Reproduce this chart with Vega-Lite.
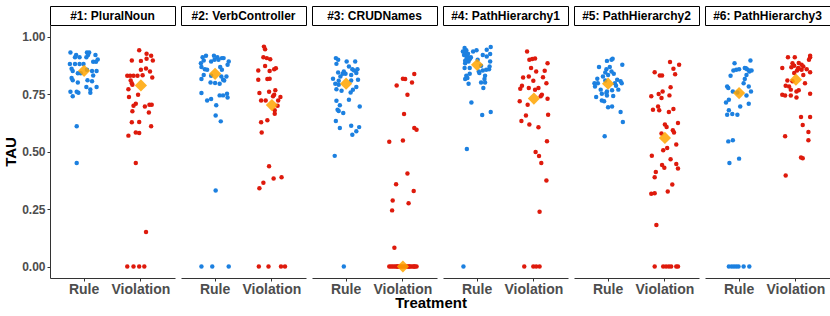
{
"$schema": "https://vega.github.io/schema/vega-lite/v6.json",
"padding": {"left": 3, "top": 5, "right": 3, "bottom": 3},
"config": {
  "font": "Liberation Sans",
  "view": {"stroke": null},
  "axis": {"grid": false, "domainColor": "#333333", "tickColor": "#333333", "domainWidth": 1, "tickWidth": 1, "tickSize": 3, "labelPadding": 2, "labelColor": "#4d4d4d", "labelFontWeight": "bold", "titleFontWeight": "bold", "titleColor": "black"},
  "axisY": {"labelFontSize": 12, "titleFontSize": 15, "titlePadding": 3},
  "axisX": {"labelFontSize": 14, "labelAngle": 0, "labelPadding": 1}
},
"title": {"text": "Treatment", "orient": "bottom", "anchor": "middle", "fontSize": 15, "fontWeight": "bold", "color": "black", "offset": 0, "dx": 14},
"datasets": {
"strips": [
{"panel":1,"label":"#1: PluralNoun"},{"panel":2,"label":"#2: VerbController"},{"panel":3,"label":"#3: CRUDNames"},{"panel":4,"label":"#4: PathHierarchy1"},{"panel":5,"label":"#5: PathHierarchy2"},{"panel":6,"label":"#6: PathHierarchy3"}
],
"med": [
{"panel":1,"treatment":"Rule","tau":0.851},{"panel":1,"treatment":"Violation","tau":0.787},
{"panel":2,"treatment":"Rule","tau":0.838},{"panel":2,"treatment":"Violation","tau":0.702},
{"panel":3,"treatment":"Rule","tau":0.795},{"panel":3,"treatment":"Violation","tau":0.0},
{"panel":4,"treatment":"Rule","tau":0.877},{"panel":4,"treatment":"Violation","tau":0.73},
{"panel":5,"treatment":"Rule","tau":0.795},{"panel":5,"treatment":"Violation","tau":0.559},
{"panel":6,"treatment":"Rule","tau":0.754},{"panel":6,"treatment":"Violation","tau":0.812}
],
"pts": [
{"panel":1,"treatment":"Rule","jitter":-0.24,"tau":0.93},{"panel":1,"treatment":"Rule","jitter":-0.14,"tau":0.92},{"panel":1,"treatment":"Rule","jitter":-0.08,"tau":0.91},{"panel":1,"treatment":"Rule","jitter":-0.16,"tau":0.91},{"panel":1,"treatment":"Rule","jitter":0.05,"tau":0.93},{"panel":1,"treatment":"Rule","jitter":0.09,"tau":0.93},{"panel":1,"treatment":"Rule","jitter":0.07,"tau":0.92},{"panel":1,"treatment":"Rule","jitter":0.04,"tau":0.91},{"panel":1,"treatment":"Rule","jitter":0.2,"tau":0.92},{"panel":1,"treatment":"Rule","jitter":0.24,"tau":0.9},{"panel":1,"treatment":"Rule","jitter":0.21,"tau":0.89},{"panel":1,"treatment":"Rule","jitter":0.16,"tau":0.89},{"panel":1,"treatment":"Rule","jitter":-0.25,"tau":0.88},{"panel":1,"treatment":"Rule","jitter":-0.16,"tau":0.88},{"panel":1,"treatment":"Rule","jitter":-0.08,"tau":0.88},{"panel":1,"treatment":"Rule","jitter":-0.01,"tau":0.88},{"panel":1,"treatment":"Rule","jitter":-0.22,"tau":0.86},{"panel":1,"treatment":"Rule","jitter":-0.2,"tau":0.85},{"panel":1,"treatment":"Rule","jitter":-0.11,"tau":0.84},{"panel":1,"treatment":"Rule","jitter":-0.06,"tau":0.84},{"panel":1,"treatment":"Rule","jitter":0.05,"tau":0.855},{"panel":1,"treatment":"Rule","jitter":0.14,"tau":0.85},{"panel":1,"treatment":"Rule","jitter":0.22,"tau":0.85},{"panel":1,"treatment":"Rule","jitter":0.16,"tau":0.83},{"panel":1,"treatment":"Rule","jitter":-0.22,"tau":0.82},{"panel":1,"treatment":"Rule","jitter":-0.2,"tau":0.81},{"panel":1,"treatment":"Rule","jitter":0.06,"tau":0.81},{"panel":1,"treatment":"Rule","jitter":0.14,"tau":0.805},{"panel":1,"treatment":"Rule","jitter":-0.11,"tau":0.8},{"panel":1,"treatment":"Rule","jitter":0.04,"tau":0.78},{"panel":1,"treatment":"Rule","jitter":0.11,"tau":0.77},{"panel":1,"treatment":"Rule","jitter":0.22,"tau":0.78},{"panel":1,"treatment":"Rule","jitter":-0.24,"tau":0.76},{"panel":1,"treatment":"Rule","jitter":-0.13,"tau":0.76},{"panel":1,"treatment":"Rule","jitter":-0.1,"tau":0.755},{"panel":1,"treatment":"Rule","jitter":0.11,"tau":0.755},{"panel":1,"treatment":"Rule","jitter":-0.2,"tau":0.74},{"panel":1,"treatment":"Rule","jitter":-0.13,"tau":0.61},{"panel":1,"treatment":"Rule","jitter":-0.13,"tau":0.45},
{"panel":1,"treatment":"Violation","jitter":-0.03,"tau":0.94},{"panel":1,"treatment":"Violation","jitter":0.1,"tau":0.925},{"panel":1,"treatment":"Violation","jitter":0.18,"tau":0.916},{"panel":1,"treatment":"Violation","jitter":0,"tau":0.894},{"panel":1,"treatment":"Violation","jitter":-0.16,"tau":0.896},{"panel":1,"treatment":"Violation","jitter":0.1,"tau":0.903},{"panel":1,"treatment":"Violation","jitter":0.21,"tau":0.896},{"panel":1,"treatment":"Violation","jitter":0,"tau":0.855},{"panel":1,"treatment":"Violation","jitter":0.09,"tau":0.861},{"panel":1,"treatment":"Violation","jitter":0.16,"tau":0.848},{"panel":1,"treatment":"Violation","jitter":0.2,"tau":0.822},{"panel":1,"treatment":"Violation","jitter":-0.24,"tau":0.829},{"panel":1,"treatment":"Violation","jitter":-0.19,"tau":0.829},{"panel":1,"treatment":"Violation","jitter":-0.13,"tau":0.829},{"panel":1,"treatment":"Violation","jitter":-0.06,"tau":0.829},{"panel":1,"treatment":"Violation","jitter":0.03,"tau":0.832},{"panel":1,"treatment":"Violation","jitter":-0.18,"tau":0.809},{"panel":1,"treatment":"Violation","jitter":-0.15,"tau":0.79},{"panel":1,"treatment":"Violation","jitter":-0.22,"tau":0.771},{"panel":1,"treatment":"Violation","jitter":-0.16,"tau":0.797},{"panel":1,"treatment":"Violation","jitter":-0.05,"tau":0.747},{"panel":1,"treatment":"Violation","jitter":-0.21,"tau":0.737},{"panel":1,"treatment":"Violation","jitter":-0.09,"tau":0.708},{"panel":1,"treatment":"Violation","jitter":-0.13,"tau":0.699},{"panel":1,"treatment":"Violation","jitter":0.07,"tau":0.696},{"panel":1,"treatment":"Violation","jitter":0.15,"tau":0.703},{"panel":1,"treatment":"Violation","jitter":0.19,"tau":0.703},{"panel":1,"treatment":"Violation","jitter":-0.15,"tau":0.675},{"panel":1,"treatment":"Violation","jitter":0.14,"tau":0.67},{"panel":1,"treatment":"Violation","jitter":-0.16,"tau":0.627},{"panel":1,"treatment":"Violation","jitter":-0.03,"tau":0.628},{"panel":1,"treatment":"Violation","jitter":0.18,"tau":0.61},{"panel":1,"treatment":"Violation","jitter":-0.09,"tau":0.583},{"panel":1,"treatment":"Violation","jitter":-0.03,"tau":0.58},{"panel":1,"treatment":"Violation","jitter":-0.22,"tau":0.569},{"panel":1,"treatment":"Violation","jitter":-0.09,"tau":0.45},{"panel":1,"treatment":"Violation","jitter":0.09,"tau":0.15},{"panel":1,"treatment":"Violation","jitter":-0.24,"tau":0},{"panel":1,"treatment":"Violation","jitter":-0.13,"tau":0},{"panel":1,"treatment":"Violation","jitter":-0.03,"tau":0},{"panel":1,"treatment":"Violation","jitter":0.06,"tau":0},
{"panel":2,"treatment":"Rule","jitter":-0.22,"tau":0.91},{"panel":2,"treatment":"Rule","jitter":-0.16,"tau":0.916},{"panel":2,"treatment":"Rule","jitter":-0.02,"tau":0.916},{"panel":2,"treatment":"Rule","jitter":0.04,"tau":0.91},{"panel":2,"treatment":"Rule","jitter":0.12,"tau":0.906},{"panel":2,"treatment":"Rule","jitter":0.15,"tau":0.906},{"panel":2,"treatment":"Rule","jitter":-0.25,"tau":0.884},{"panel":2,"treatment":"Rule","jitter":-0.2,"tau":0.896},{"panel":2,"treatment":"Rule","jitter":-0.07,"tau":0.891},{"panel":2,"treatment":"Rule","jitter":-0.01,"tau":0.899},{"panel":2,"treatment":"Rule","jitter":0.06,"tau":0.899},{"panel":2,"treatment":"Rule","jitter":0.24,"tau":0.891},{"panel":2,"treatment":"Rule","jitter":0.22,"tau":0.877},{"panel":2,"treatment":"Rule","jitter":-0.24,"tau":0.867},{"panel":2,"treatment":"Rule","jitter":-0.18,"tau":0.858},{"panel":2,"treatment":"Rule","jitter":-0.14,"tau":0.855},{"panel":2,"treatment":"Rule","jitter":0.09,"tau":0.867},{"panel":2,"treatment":"Rule","jitter":0.12,"tau":0.855},{"panel":2,"treatment":"Rule","jitter":-0.2,"tau":0.833},{"panel":2,"treatment":"Rule","jitter":-0.07,"tau":0.829},{"panel":2,"treatment":"Rule","jitter":0.11,"tau":0.826},{"panel":2,"treatment":"Rule","jitter":0.2,"tau":0.826},{"panel":2,"treatment":"Rule","jitter":-0.24,"tau":0.815},{"panel":2,"treatment":"Rule","jitter":0.14,"tau":0.812},{"panel":2,"treatment":"Rule","jitter":0.16,"tau":0.809},{"panel":2,"treatment":"Rule","jitter":-0.08,"tau":0.8},{"panel":2,"treatment":"Rule","jitter":0,"tau":0.798},{"panel":2,"treatment":"Rule","jitter":0.08,"tau":0.795},{"panel":2,"treatment":"Rule","jitter":-0.24,"tau":0.754},{"panel":2,"treatment":"Rule","jitter":-0.14,"tau":0.722},{"panel":2,"treatment":"Rule","jitter":-0.07,"tau":0.728},{"panel":2,"treatment":"Rule","jitter":0.08,"tau":0.744},{"panel":2,"treatment":"Rule","jitter":0.14,"tau":0.744},{"panel":2,"treatment":"Rule","jitter":0.21,"tau":0.751},{"panel":2,"treatment":"Rule","jitter":0.22,"tau":0.735},{"panel":2,"treatment":"Rule","jitter":0.02,"tau":0.701},{"panel":2,"treatment":"Rule","jitter":0.01,"tau":0.657},{"panel":2,"treatment":"Rule","jitter":0.1,"tau":0.631},{"panel":2,"treatment":"Rule","jitter":0.01,"tau":0.33},{"panel":2,"treatment":"Rule","jitter":-0.24,"tau":0},{"panel":2,"treatment":"Rule","jitter":-0.05,"tau":0},{"panel":2,"treatment":"Rule","jitter":0.24,"tau":0},
{"panel":2,"treatment":"Violation","jitter":-0.14,"tau":0.956},{"panel":2,"treatment":"Violation","jitter":-0.12,"tau":0.945},{"panel":2,"treatment":"Violation","jitter":-0.15,"tau":0.91},{"panel":2,"treatment":"Violation","jitter":-0.09,"tau":0.906},{"panel":2,"treatment":"Violation","jitter":-0.03,"tau":0.901},{"panel":2,"treatment":"Violation","jitter":-0.12,"tau":0.872},{"panel":2,"treatment":"Violation","jitter":-0.04,"tau":0.85},{"panel":2,"treatment":"Violation","jitter":0.04,"tau":0.858},{"panel":2,"treatment":"Violation","jitter":0.07,"tau":0.862},{"panel":2,"treatment":"Violation","jitter":-0.24,"tau":0.852},{"panel":2,"treatment":"Violation","jitter":-0.08,"tau":0.815},{"panel":2,"treatment":"Violation","jitter":-0.04,"tau":0.816},{"panel":2,"treatment":"Violation","jitter":-0.24,"tau":0.812},{"panel":2,"treatment":"Violation","jitter":-0.22,"tau":0.754},{"panel":2,"treatment":"Violation","jitter":-0.05,"tau":0.76},{"panel":2,"treatment":"Violation","jitter":0.06,"tau":0.766},{"panel":2,"treatment":"Violation","jitter":0.04,"tau":0.747},{"panel":2,"treatment":"Violation","jitter":0.02,"tau":0.74},{"panel":2,"treatment":"Violation","jitter":0.15,"tau":0.737},{"panel":2,"treatment":"Violation","jitter":-0.19,"tau":0.722},{"panel":2,"treatment":"Violation","jitter":-0.11,"tau":0.722},{"panel":2,"treatment":"Violation","jitter":0.11,"tau":0.722},{"panel":2,"treatment":"Violation","jitter":0.1,"tau":0.699},{"panel":2,"treatment":"Violation","jitter":0.05,"tau":0.679},{"panel":2,"treatment":"Violation","jitter":0.05,"tau":0.664},{"panel":2,"treatment":"Violation","jitter":-0.19,"tau":0.627},{"panel":2,"treatment":"Violation","jitter":-0.08,"tau":0.636},{"panel":2,"treatment":"Violation","jitter":-0.18,"tau":0.583},{"panel":2,"treatment":"Violation","jitter":-0.05,"tau":0.436},{"panel":2,"treatment":"Violation","jitter":0.03,"tau":0.383},{"panel":2,"treatment":"Violation","jitter":0.17,"tau":0.388},{"panel":2,"treatment":"Violation","jitter":-0.15,"tau":0.364},{"panel":2,"treatment":"Violation","jitter":-0.22,"tau":0.34},{"panel":2,"treatment":"Violation","jitter":-0.23,"tau":0},{"panel":2,"treatment":"Violation","jitter":-0.06,"tau":0},{"panel":2,"treatment":"Violation","jitter":0.16,"tau":0},{"panel":2,"treatment":"Violation","jitter":0.23,"tau":0},
{"panel":3,"treatment":"Rule","jitter":-0.18,"tau":0.906},{"panel":3,"treatment":"Rule","jitter":-0.14,"tau":0.899},{"panel":3,"treatment":"Rule","jitter":-0.17,"tau":0.881},{"panel":3,"treatment":"Rule","jitter":0.01,"tau":0.891},{"panel":3,"treatment":"Rule","jitter":0.16,"tau":0.891},{"panel":3,"treatment":"Rule","jitter":0.05,"tau":0.87},{"panel":3,"treatment":"Rule","jitter":0.11,"tau":0.858},{"panel":3,"treatment":"Rule","jitter":0.14,"tau":0.852},{"panel":3,"treatment":"Rule","jitter":0.2,"tau":0.858},{"panel":3,"treatment":"Rule","jitter":-0.14,"tau":0.843},{"panel":3,"treatment":"Rule","jitter":-0.04,"tau":0.848},{"panel":3,"treatment":"Rule","jitter":-0.06,"tau":0.838},{"panel":3,"treatment":"Rule","jitter":-0.01,"tau":0.838},{"panel":3,"treatment":"Rule","jitter":0.09,"tau":0.833},{"panel":3,"treatment":"Rule","jitter":0.18,"tau":0.841},{"panel":3,"treatment":"Rule","jitter":-0.1,"tau":0.826},{"panel":3,"treatment":"Rule","jitter":-0.23,"tau":0.816},{"panel":3,"treatment":"Rule","jitter":-0.13,"tau":0.808},{"panel":3,"treatment":"Rule","jitter":0.09,"tau":0.809},{"panel":3,"treatment":"Rule","jitter":0.21,"tau":0.812},{"panel":3,"treatment":"Rule","jitter":-0.19,"tau":0.795},{"panel":3,"treatment":"Rule","jitter":-0.13,"tau":0.79},{"panel":3,"treatment":"Rule","jitter":0.12,"tau":0.768},{"panel":3,"treatment":"Rule","jitter":-0.17,"tau":0.771},{"panel":3,"treatment":"Rule","jitter":-0.08,"tau":0.764},{"panel":3,"treatment":"Rule","jitter":0.18,"tau":0.78},{"panel":3,"treatment":"Rule","jitter":0.08,"tau":0.757},{"panel":3,"treatment":"Rule","jitter":-0.17,"tau":0.721},{"panel":3,"treatment":"Rule","jitter":0.05,"tau":0.725},{"panel":3,"treatment":"Rule","jitter":-0.11,"tau":0.701},{"panel":3,"treatment":"Rule","jitter":0.24,"tau":0.696},{"panel":3,"treatment":"Rule","jitter":-0.15,"tau":0.682},{"panel":3,"treatment":"Rule","jitter":-0.13,"tau":0.676},{"panel":3,"treatment":"Rule","jitter":-0.05,"tau":0.667},{"panel":3,"treatment":"Rule","jitter":-0.18,"tau":0.633},{"panel":3,"treatment":"Rule","jitter":-0.11,"tau":0.602},{"panel":3,"treatment":"Rule","jitter":0.09,"tau":0.612},{"panel":3,"treatment":"Rule","jitter":0.23,"tau":0.606},{"panel":3,"treatment":"Rule","jitter":0.18,"tau":0.588},{"panel":3,"treatment":"Rule","jitter":0.11,"tau":0.573},{"panel":3,"treatment":"Rule","jitter":-0.2,"tau":0.481},{"panel":3,"treatment":"Rule","jitter":-0.04,"tau":0},
{"panel":3,"treatment":"Violation","jitter":0.2,"tau":0.837},{"panel":3,"treatment":"Violation","jitter":0,"tau":0.816},{"panel":3,"treatment":"Violation","jitter":0.04,"tau":0.815},{"panel":3,"treatment":"Violation","jitter":0.16,"tau":0.8},{"panel":3,"treatment":"Violation","jitter":-0.11,"tau":0.787},{"panel":3,"treatment":"Violation","jitter":0.08,"tau":0.747},{"panel":3,"treatment":"Violation","jitter":0.02,"tau":0.663},{"panel":3,"treatment":"Violation","jitter":0.2,"tau":0.602},{"panel":3,"treatment":"Violation","jitter":0.24,"tau":0.595},{"panel":3,"treatment":"Violation","jitter":-0.24,"tau":0.542},{"panel":3,"treatment":"Violation","jitter":0,"tau":0.548},{"panel":3,"treatment":"Violation","jitter":0.08,"tau":0.404},{"panel":3,"treatment":"Violation","jitter":-0.12,"tau":0.358},{"panel":3,"treatment":"Violation","jitter":0.19,"tau":0.328},{"panel":3,"treatment":"Violation","jitter":-0.18,"tau":0.287},{"panel":3,"treatment":"Violation","jitter":0.1,"tau":0.275},{"panel":3,"treatment":"Violation","jitter":-0.19,"tau":0.244},{"panel":3,"treatment":"Violation","jitter":-0.15,"tau":0.082},{"panel":3,"treatment":"Violation","jitter":-0.24,"tau":0},{"panel":3,"treatment":"Violation","jitter":-0.21,"tau":0},{"panel":3,"treatment":"Violation","jitter":-0.18,"tau":0},{"panel":3,"treatment":"Violation","jitter":-0.15,"tau":0},{"panel":3,"treatment":"Violation","jitter":-0.12,"tau":0},{"panel":3,"treatment":"Violation","jitter":-0.09,"tau":0},{"panel":3,"treatment":"Violation","jitter":-0.06,"tau":0},{"panel":3,"treatment":"Violation","jitter":-0.03,"tau":0},{"panel":3,"treatment":"Violation","jitter":0,"tau":0},{"panel":3,"treatment":"Violation","jitter":0.03,"tau":0},{"panel":3,"treatment":"Violation","jitter":0.06,"tau":0},{"panel":3,"treatment":"Violation","jitter":0.09,"tau":0},{"panel":3,"treatment":"Violation","jitter":0.12,"tau":0},{"panel":3,"treatment":"Violation","jitter":0.15,"tau":0},{"panel":3,"treatment":"Violation","jitter":0.18,"tau":0},{"panel":3,"treatment":"Violation","jitter":0.21,"tau":0},{"panel":3,"treatment":"Violation","jitter":0.24,"tau":0},{"panel":3,"treatment":"Violation","jitter":-0.1,"tau":0},{"panel":3,"treatment":"Violation","jitter":0.11,"tau":0},{"panel":3,"treatment":"Violation","jitter":0.2,"tau":0},
{"panel":4,"treatment":"Rule","jitter":-0.22,"tau":0.95},{"panel":4,"treatment":"Rule","jitter":0.24,"tau":0.954},{"panel":4,"treatment":"Rule","jitter":-0.25,"tau":0.935},{"panel":4,"treatment":"Rule","jitter":-0.19,"tau":0.94},{"panel":4,"treatment":"Rule","jitter":-0.07,"tau":0.935},{"panel":4,"treatment":"Rule","jitter":-0.01,"tau":0.94},{"panel":4,"treatment":"Rule","jitter":0.17,"tau":0.942},{"panel":4,"treatment":"Rule","jitter":0.23,"tau":0.924},{"panel":4,"treatment":"Rule","jitter":-0.23,"tau":0.92},{"panel":4,"treatment":"Rule","jitter":-0.17,"tau":0.916},{"panel":4,"treatment":"Rule","jitter":-0.11,"tau":0.91},{"panel":4,"treatment":"Rule","jitter":0.17,"tau":0.913},{"panel":4,"treatment":"Rule","jitter":-0.19,"tau":0.899},{"panel":4,"treatment":"Rule","jitter":-0.13,"tau":0.902},{"panel":4,"treatment":"Rule","jitter":-0.21,"tau":0.884},{"panel":4,"treatment":"Rule","jitter":-0.15,"tau":0.891},{"panel":4,"treatment":"Rule","jitter":0.23,"tau":0.891},{"panel":4,"treatment":"Rule","jitter":0.01,"tau":0.899},{"panel":4,"treatment":"Rule","jitter":-0.22,"tau":0.863},{"panel":4,"treatment":"Rule","jitter":-0.13,"tau":0.863},{"panel":4,"treatment":"Rule","jitter":0.07,"tau":0.873},{"panel":4,"treatment":"Rule","jitter":0.22,"tau":0.87},{"panel":4,"treatment":"Rule","jitter":0.03,"tau":0.848},{"panel":4,"treatment":"Rule","jitter":0.1,"tau":0.852},{"panel":4,"treatment":"Rule","jitter":0.16,"tau":0.855},{"panel":4,"treatment":"Rule","jitter":0.21,"tau":0.858},{"panel":4,"treatment":"Rule","jitter":-0.19,"tau":0.829},{"panel":4,"treatment":"Rule","jitter":-0.13,"tau":0.838},{"panel":4,"treatment":"Rule","jitter":0.04,"tau":0.841},{"panel":4,"treatment":"Rule","jitter":0.14,"tau":0.829},{"panel":4,"treatment":"Rule","jitter":-0.21,"tau":0.815},{"panel":4,"treatment":"Rule","jitter":-0.17,"tau":0.82},{"panel":4,"treatment":"Rule","jitter":0.13,"tau":0.815},{"panel":4,"treatment":"Rule","jitter":0.07,"tau":0.8},{"panel":4,"treatment":"Rule","jitter":-0.15,"tau":0.795},{"panel":4,"treatment":"Rule","jitter":0.14,"tau":0.8},{"panel":4,"treatment":"Rule","jitter":0.11,"tau":0.776},{"panel":4,"treatment":"Rule","jitter":-0.1,"tau":0.713},{"panel":4,"treatment":"Rule","jitter":0.09,"tau":0.659},{"panel":4,"treatment":"Rule","jitter":0.24,"tau":0.672},{"panel":4,"treatment":"Rule","jitter":-0.18,"tau":0.511},{"panel":4,"treatment":"Rule","jitter":-0.24,"tau":0},{"panel":4,"treatment":"Rule","jitter":-0.2,"tau":0.93},{"panel":4,"treatment":"Rule","jitter":-0.16,"tau":0.925},{"panel":4,"treatment":"Rule","jitter":-0.12,"tau":0.905},{"panel":4,"treatment":"Rule","jitter":-0.18,"tau":0.91},{"panel":4,"treatment":"Rule","jitter":-0.21,"tau":0.895},{"panel":4,"treatment":"Rule","jitter":0.1,"tau":0.92},
{"panel":4,"treatment":"Violation","jitter":-0.12,"tau":0.935},{"panel":4,"treatment":"Violation","jitter":-0.08,"tau":0.899},{"panel":4,"treatment":"Violation","jitter":-0.03,"tau":0.902},{"panel":4,"treatment":"Violation","jitter":0.02,"tau":0.904},{"panel":4,"treatment":"Violation","jitter":0.24,"tau":0.884},{"panel":4,"treatment":"Violation","jitter":-0.05,"tau":0.863},{"panel":4,"treatment":"Violation","jitter":0.04,"tau":0.848},{"panel":4,"treatment":"Violation","jitter":0.19,"tau":0.851},{"panel":4,"treatment":"Violation","jitter":-0.19,"tau":0.822},{"panel":4,"treatment":"Violation","jitter":-0.09,"tau":0.826},{"panel":4,"treatment":"Violation","jitter":0.16,"tau":0.823},{"panel":4,"treatment":"Violation","jitter":-0.01,"tau":0.808},{"panel":4,"treatment":"Violation","jitter":0.22,"tau":0.797},{"panel":4,"treatment":"Violation","jitter":-0.21,"tau":0.786},{"panel":4,"treatment":"Violation","jitter":-0.24,"tau":0.773},{"panel":4,"treatment":"Violation","jitter":-0.09,"tau":0.776},{"panel":4,"treatment":"Violation","jitter":0.02,"tau":0.768},{"panel":4,"treatment":"Violation","jitter":0.08,"tau":0.776},{"panel":4,"treatment":"Violation","jitter":0.14,"tau":0.747},{"panel":4,"treatment":"Violation","jitter":-0.25,"tau":0.718},{"panel":4,"treatment":"Violation","jitter":-0.11,"tau":0.703},{"panel":4,"treatment":"Violation","jitter":0.12,"tau":0.74},{"panel":4,"treatment":"Violation","jitter":0.24,"tau":0.729},{"panel":4,"treatment":"Violation","jitter":-0.14,"tau":0.657},{"panel":4,"treatment":"Violation","jitter":0.25,"tau":0.66},{"panel":4,"treatment":"Violation","jitter":-0.22,"tau":0.633},{"panel":4,"treatment":"Violation","jitter":-0.08,"tau":0.617},{"panel":4,"treatment":"Violation","jitter":0.08,"tau":0.605},{"panel":4,"treatment":"Violation","jitter":0.23,"tau":0.545},{"panel":4,"treatment":"Violation","jitter":0.03,"tau":0.498},{"panel":4,"treatment":"Violation","jitter":0.09,"tau":0.48},{"panel":4,"treatment":"Violation","jitter":0.13,"tau":0.45},{"panel":4,"treatment":"Violation","jitter":0.22,"tau":0.374},{"panel":4,"treatment":"Violation","jitter":0.1,"tau":0.238},{"panel":4,"treatment":"Violation","jitter":-0.17,"tau":0},{"panel":4,"treatment":"Violation","jitter":-0.01,"tau":0},{"panel":4,"treatment":"Violation","jitter":0.04,"tau":0},{"panel":4,"treatment":"Violation","jitter":0.1,"tau":0},
{"panel":5,"treatment":"Rule","jitter":-0.02,"tau":0.894},{"panel":5,"treatment":"Rule","jitter":0.06,"tau":0.899},{"panel":5,"treatment":"Rule","jitter":0.08,"tau":0.903},{"panel":5,"treatment":"Rule","jitter":0.25,"tau":0.877},{"panel":5,"treatment":"Rule","jitter":-0.16,"tau":0.867},{"panel":5,"treatment":"Rule","jitter":-0.03,"tau":0.858},{"panel":5,"treatment":"Rule","jitter":0.03,"tau":0.867},{"panel":5,"treatment":"Rule","jitter":-0.05,"tau":0.843},{"panel":5,"treatment":"Rule","jitter":0.06,"tau":0.848},{"panel":5,"treatment":"Rule","jitter":0.1,"tau":0.838},{"panel":5,"treatment":"Rule","jitter":0,"tau":0.833},{"panel":5,"treatment":"Rule","jitter":-0.19,"tau":0.816},{"panel":5,"treatment":"Rule","jitter":-0.09,"tau":0.826},{"panel":5,"treatment":"Rule","jitter":-0.05,"tau":0.809},{"panel":5,"treatment":"Rule","jitter":-0.24,"tau":0.797},{"panel":5,"treatment":"Rule","jitter":-0.18,"tau":0.797},{"panel":5,"treatment":"Rule","jitter":-0.23,"tau":0.783},{"panel":5,"treatment":"Rule","jitter":0.16,"tau":0.812},{"panel":5,"treatment":"Rule","jitter":0.22,"tau":0.805},{"panel":5,"treatment":"Rule","jitter":0.24,"tau":0.797},{"panel":5,"treatment":"Rule","jitter":0.12,"tau":0.797},{"panel":5,"treatment":"Rule","jitter":0.14,"tau":0.786},{"panel":5,"treatment":"Rule","jitter":-0.13,"tau":0.769},{"panel":5,"treatment":"Rule","jitter":-0.02,"tau":0.761},{"panel":5,"treatment":"Rule","jitter":0.07,"tau":0.766},{"panel":5,"treatment":"Rule","jitter":0.18,"tau":0.769},{"panel":5,"treatment":"Rule","jitter":-0.11,"tau":0.751},{"panel":5,"treatment":"Rule","jitter":-0.03,"tau":0.754},{"panel":5,"treatment":"Rule","jitter":-0.02,"tau":0.743},{"panel":5,"treatment":"Rule","jitter":-0.21,"tau":0.737},{"panel":5,"treatment":"Rule","jitter":0.09,"tau":0.741},{"panel":5,"treatment":"Rule","jitter":-0.11,"tau":0.722},{"panel":5,"treatment":"Rule","jitter":-0.07,"tau":0.718},{"panel":5,"treatment":"Rule","jitter":0,"tau":0.692},{"panel":5,"treatment":"Rule","jitter":0.07,"tau":0.696},{"panel":5,"treatment":"Rule","jitter":0.22,"tau":0.672},{"panel":5,"treatment":"Rule","jitter":0.26,"tau":0.628},{"panel":5,"treatment":"Rule","jitter":-0.06,"tau":0.566},
{"panel":5,"treatment":"Violation","jitter":0.09,"tau":0.889},{"panel":5,"treatment":"Violation","jitter":0.25,"tau":0.877},{"panel":5,"treatment":"Violation","jitter":0.15,"tau":0.86},{"panel":5,"treatment":"Violation","jitter":-0.18,"tau":0.845},{"panel":5,"treatment":"Violation","jitter":-0.09,"tau":0.83},{"panel":5,"treatment":"Violation","jitter":-0.05,"tau":0.83},{"panel":5,"treatment":"Violation","jitter":0.18,"tau":0.836},{"panel":5,"treatment":"Violation","jitter":0.1,"tau":0.779},{"panel":5,"treatment":"Violation","jitter":-0.04,"tau":0.761},{"panel":5,"treatment":"Violation","jitter":-0.11,"tau":0.75},{"panel":5,"treatment":"Violation","jitter":0.08,"tau":0.744},{"panel":5,"treatment":"Violation","jitter":-0.24,"tau":0.74},{"panel":5,"treatment":"Violation","jitter":-0.06,"tau":0.733},{"panel":5,"treatment":"Violation","jitter":-0.21,"tau":0.682},{"panel":5,"treatment":"Violation","jitter":-0.12,"tau":0.696},{"panel":5,"treatment":"Violation","jitter":-0.1,"tau":0.679},{"panel":5,"treatment":"Violation","jitter":0.15,"tau":0.685},{"panel":5,"treatment":"Violation","jitter":0.07,"tau":0.672},{"panel":5,"treatment":"Violation","jitter":0,"tau":0.617},{"panel":5,"treatment":"Violation","jitter":0.03,"tau":0.607},{"panel":5,"treatment":"Violation","jitter":0.23,"tau":0.624},{"panel":5,"treatment":"Violation","jitter":0.14,"tau":0.592},{"panel":5,"treatment":"Violation","jitter":0.16,"tau":0.583},{"panel":5,"treatment":"Violation","jitter":-0.06,"tau":0.578},{"panel":5,"treatment":"Violation","jitter":0.2,"tau":0.53},{"panel":5,"treatment":"Violation","jitter":0.04,"tau":0.515},{"panel":5,"treatment":"Violation","jitter":-0.03,"tau":0.505},{"panel":5,"treatment":"Violation","jitter":-0.23,"tau":0.482},{"panel":5,"treatment":"Violation","jitter":-0.16,"tau":0.411},{"panel":5,"treatment":"Violation","jitter":-0.18,"tau":0.388},{"panel":5,"treatment":"Violation","jitter":-0.05,"tau":0.441},{"panel":5,"treatment":"Violation","jitter":-0.01,"tau":0.429},{"panel":5,"treatment":"Violation","jitter":0.1,"tau":0.466},{"panel":5,"treatment":"Violation","jitter":0.2,"tau":0.446},{"panel":5,"treatment":"Violation","jitter":0.23,"tau":0.426},{"panel":5,"treatment":"Violation","jitter":0.13,"tau":0.357},{"panel":5,"treatment":"Violation","jitter":0.05,"tau":0.326},{"panel":5,"treatment":"Violation","jitter":-0.24,"tau":0.316},{"panel":5,"treatment":"Violation","jitter":-0.18,"tau":0.318},{"panel":5,"treatment":"Violation","jitter":-0.15,"tau":0.18},{"panel":5,"treatment":"Violation","jitter":-0.18,"tau":0},{"panel":5,"treatment":"Violation","jitter":-0.03,"tau":0},{"panel":5,"treatment":"Violation","jitter":0.02,"tau":0},{"panel":5,"treatment":"Violation","jitter":0.07,"tau":0},{"panel":5,"treatment":"Violation","jitter":0.11,"tau":0},{"panel":5,"treatment":"Violation","jitter":0.2,"tau":0},{"panel":5,"treatment":"Violation","jitter":0.23,"tau":0},
{"panel":6,"treatment":"Rule","jitter":0.2,"tau":0.896},{"panel":6,"treatment":"Rule","jitter":-0.08,"tau":0.884},{"panel":6,"treatment":"Rule","jitter":0,"tau":0.858},{"panel":6,"treatment":"Rule","jitter":-0.05,"tau":0.855},{"panel":6,"treatment":"Rule","jitter":-0.1,"tau":0.852},{"panel":6,"treatment":"Rule","jitter":0.1,"tau":0.863},{"panel":6,"treatment":"Rule","jitter":0.14,"tau":0.858},{"panel":6,"treatment":"Rule","jitter":0.18,"tau":0.852},{"panel":6,"treatment":"Rule","jitter":0.22,"tau":0.852},{"panel":6,"treatment":"Rule","jitter":-0.15,"tau":0.829},{"panel":6,"treatment":"Rule","jitter":0.13,"tau":0.833},{"panel":6,"treatment":"Rule","jitter":0.1,"tau":0.815},{"panel":6,"treatment":"Rule","jitter":0.08,"tau":0.797},{"panel":6,"treatment":"Rule","jitter":0.17,"tau":0.783},{"panel":6,"treatment":"Rule","jitter":-0.21,"tau":0.783},{"panel":6,"treatment":"Rule","jitter":-0.19,"tau":0.776},{"panel":6,"treatment":"Rule","jitter":0.21,"tau":0.761},{"panel":6,"treatment":"Rule","jitter":-0.11,"tau":0.761},{"panel":6,"treatment":"Rule","jitter":-0.03,"tau":0.757},{"panel":6,"treatment":"Rule","jitter":0.13,"tau":0.743},{"panel":6,"treatment":"Rule","jitter":-0.18,"tau":0.725},{"panel":6,"treatment":"Rule","jitter":-0.23,"tau":0.713},{"panel":6,"treatment":"Rule","jitter":0.02,"tau":0.696},{"panel":6,"treatment":"Rule","jitter":0.17,"tau":0.708},{"panel":6,"treatment":"Rule","jitter":-0.18,"tau":0.679},{"panel":6,"treatment":"Rule","jitter":-0.21,"tau":0.66},{"panel":6,"treatment":"Rule","jitter":-0.12,"tau":0.663},{"panel":6,"treatment":"Rule","jitter":-0.03,"tau":0.66},{"panel":6,"treatment":"Rule","jitter":-0.19,"tau":0.544},{"panel":6,"treatment":"Rule","jitter":-0.11,"tau":0.549},{"panel":6,"treatment":"Rule","jitter":-0.17,"tau":0.45},{"panel":6,"treatment":"Rule","jitter":0,"tau":0.469},{"panel":6,"treatment":"Rule","jitter":0.12,"tau":0.862},{"panel":6,"treatment":"Rule","jitter":0.18,"tau":0.848},{"panel":6,"treatment":"Rule","jitter":-0.18,"tau":0},{"panel":6,"treatment":"Rule","jitter":-0.13,"tau":0},{"panel":6,"treatment":"Rule","jitter":-0.09,"tau":0},{"panel":6,"treatment":"Rule","jitter":-0.05,"tau":0},{"panel":6,"treatment":"Rule","jitter":-0.01,"tau":0},{"panel":6,"treatment":"Rule","jitter":0.08,"tau":0},{"panel":6,"treatment":"Rule","jitter":0.18,"tau":0},
{"panel":6,"treatment":"Violation","jitter":-0.14,"tau":0.91},{"panel":6,"treatment":"Violation","jitter":-0.02,"tau":0.91},{"panel":6,"treatment":"Violation","jitter":0.25,"tau":0.91},{"panel":6,"treatment":"Violation","jitter":0.23,"tau":0.899},{"panel":6,"treatment":"Violation","jitter":-0.24,"tau":0.863},{"panel":6,"treatment":"Violation","jitter":-0.06,"tau":0.884},{"panel":6,"treatment":"Violation","jitter":-0.03,"tau":0.873},{"panel":6,"treatment":"Violation","jitter":0.04,"tau":0.863},{"panel":6,"treatment":"Violation","jitter":0.1,"tau":0.855},{"panel":6,"treatment":"Violation","jitter":0.19,"tau":0.858},{"panel":6,"treatment":"Violation","jitter":0.25,"tau":0.845},{"panel":6,"treatment":"Violation","jitter":-0.03,"tau":0.841},{"panel":6,"treatment":"Violation","jitter":0.02,"tau":0.852},{"panel":6,"treatment":"Violation","jitter":0.13,"tau":0.833},{"panel":6,"treatment":"Violation","jitter":-0.15,"tau":0.809},{"panel":6,"treatment":"Violation","jitter":-0.06,"tau":0.805},{"panel":6,"treatment":"Violation","jitter":0.16,"tau":0.797},{"panel":6,"treatment":"Violation","jitter":-0.18,"tau":0.786},{"panel":6,"treatment":"Violation","jitter":-0.12,"tau":0.783},{"panel":6,"treatment":"Violation","jitter":-0.09,"tau":0.769},{"panel":6,"treatment":"Violation","jitter":0.05,"tau":0.766},{"panel":6,"treatment":"Violation","jitter":0.01,"tau":0.761},{"panel":6,"treatment":"Violation","jitter":-0.24,"tau":0.747},{"panel":6,"treatment":"Violation","jitter":-0.19,"tau":0.743},{"panel":6,"treatment":"Violation","jitter":-0.09,"tau":0.743},{"panel":6,"treatment":"Violation","jitter":0.01,"tau":0.735},{"panel":6,"treatment":"Violation","jitter":0.25,"tau":0.751},{"panel":6,"treatment":"Violation","jitter":0.09,"tau":0.65},{"panel":6,"treatment":"Violation","jitter":0.25,"tau":0.65},{"panel":6,"treatment":"Violation","jitter":0.12,"tau":0.615},{"panel":6,"treatment":"Violation","jitter":0.22,"tau":0.585},{"panel":6,"treatment":"Violation","jitter":-0.19,"tau":0.566},{"panel":6,"treatment":"Violation","jitter":0.22,"tau":0.549},{"panel":6,"treatment":"Violation","jitter":0.09,"tau":0.474},{"panel":6,"treatment":"Violation","jitter":0.12,"tau":0.471},{"panel":6,"treatment":"Violation","jitter":-0.18,"tau":0.396},{"panel":6,"treatment":"Violation","jitter":0.05,"tau":0.885},{"panel":6,"treatment":"Violation","jitter":0.1,"tau":0.877},{"panel":6,"treatment":"Violation","jitter":0.13,"tau":0.87},{"panel":6,"treatment":"Violation","jitter":0.05,"tau":0.86},{"panel":6,"treatment":"Violation","jitter":0.25,"tau":0.916},{"panel":6,"treatment":"Violation","jitter":-0.08,"tau":0.866}
]
},
"spacing": 4,
"hconcat": [
{"vconcat": [
  {"data": {"name": "strips"}, "transform": [{"filter": "datum.panel == 1"}], "width": 125, "height": 19, "view": {"stroke": "black", "strokeWidth": 1}, "mark": {"type": "text", "fontSize": 12, "fontWeight": "bold", "color": "black", "baseline": "middle", "align": "center"}, "encoding": {"text": {"field": "label"}}},
  {"width": 125, "height": 253, "layer": [
    {"data": {"name": "pts"}, "transform": [{"filter": "datum.panel == 1"}], "mark": {"type": "circle", "size": 20, "opacity": 1},
     "encoding": {"x": {"field": "treatment", "type": "nominal", "scale": {"domain": ["Rule", "Violation"], "paddingInner": 0.5, "paddingOuter": 0.35}, "axis": {"title": null}},
      "xOffset": {"field": "jitter", "type": "quantitative", "scale": {"domain": [-0.25, 0.25]}},
      "y": {"field": "tau", "type": "quantitative", "scale": {"domain": [-0.05, 1.05], "nice": false, "zero": false}, "axis": {"values": [0, 0.25, 0.5, 0.75, 1], "format": ".2f", "title": "TAU"}},
      "color": {"field": "treatment", "type": "nominal", "scale": {"domain": ["Rule", "Violation"], "range": ["#1C80E0", "#DE1A0C"]}, "legend": null}}},
    {"data": {"name": "med"}, "transform": [{"filter": "datum.panel == 1"}], "mark": {"type": "point", "shape": "diamond", "filled": true, "size": 150, "color": "#FFA500", "opacity": 0.85},
     "encoding": {"x": {"field": "treatment", "type": "nominal"}, "y": {"field": "tau", "type": "quantitative"}}}
  ]}
 ], "spacing": 0, "bounds": "flush"},
{"vconcat": [
  {"data": {"name": "strips"}, "transform": [{"filter": "datum.panel == 2"}], "width": 125, "height": 19, "view": {"stroke": "black", "strokeWidth": 1}, "mark": {"type": "text", "fontSize": 12, "fontWeight": "bold", "color": "black", "baseline": "middle", "align": "center"}, "encoding": {"text": {"field": "label"}}},
  {"width": 125, "height": 253, "layer": [
    {"data": {"name": "pts"}, "transform": [{"filter": "datum.panel == 2"}], "mark": {"type": "circle", "size": 20, "opacity": 1},
     "encoding": {"x": {"field": "treatment", "type": "nominal", "scale": {"domain": ["Rule", "Violation"], "paddingInner": 0.5, "paddingOuter": 0.35}, "axis": {"title": null}},
      "xOffset": {"field": "jitter", "type": "quantitative", "scale": {"domain": [-0.25, 0.25]}},
      "y": {"field": "tau", "type": "quantitative", "scale": {"domain": [-0.05, 1.05], "nice": false, "zero": false}, "axis": null},
      "color": {"field": "treatment", "type": "nominal", "scale": {"domain": ["Rule", "Violation"], "range": ["#1C80E0", "#DE1A0C"]}, "legend": null}}},
    {"data": {"name": "med"}, "transform": [{"filter": "datum.panel == 2"}], "mark": {"type": "point", "shape": "diamond", "filled": true, "size": 150, "color": "#FFA500", "opacity": 0.85},
     "encoding": {"x": {"field": "treatment", "type": "nominal"}, "y": {"field": "tau", "type": "quantitative"}}}
  ]}
 ], "spacing": 0, "bounds": "flush"},
{"vconcat": [
  {"data": {"name": "strips"}, "transform": [{"filter": "datum.panel == 3"}], "width": 125, "height": 19, "view": {"stroke": "black", "strokeWidth": 1}, "mark": {"type": "text", "fontSize": 12, "fontWeight": "bold", "color": "black", "baseline": "middle", "align": "center"}, "encoding": {"text": {"field": "label"}}},
  {"width": 125, "height": 253, "layer": [
    {"data": {"name": "pts"}, "transform": [{"filter": "datum.panel == 3"}], "mark": {"type": "circle", "size": 20, "opacity": 1},
     "encoding": {"x": {"field": "treatment", "type": "nominal", "scale": {"domain": ["Rule", "Violation"], "paddingInner": 0.5, "paddingOuter": 0.35}, "axis": {"title": null}},
      "xOffset": {"field": "jitter", "type": "quantitative", "scale": {"domain": [-0.25, 0.25]}},
      "y": {"field": "tau", "type": "quantitative", "scale": {"domain": [-0.05, 1.05], "nice": false, "zero": false}, "axis": null},
      "color": {"field": "treatment", "type": "nominal", "scale": {"domain": ["Rule", "Violation"], "range": ["#1C80E0", "#DE1A0C"]}, "legend": null}}},
    {"data": {"name": "med"}, "transform": [{"filter": "datum.panel == 3"}], "mark": {"type": "point", "shape": "diamond", "filled": true, "size": 150, "color": "#FFA500", "opacity": 0.85},
     "encoding": {"x": {"field": "treatment", "type": "nominal"}, "y": {"field": "tau", "type": "quantitative"}}}
  ]}
 ], "spacing": 0, "bounds": "flush"},
{"vconcat": [
  {"data": {"name": "strips"}, "transform": [{"filter": "datum.panel == 4"}], "width": 125, "height": 19, "view": {"stroke": "black", "strokeWidth": 1}, "mark": {"type": "text", "fontSize": 12, "fontWeight": "bold", "color": "black", "baseline": "middle", "align": "center"}, "encoding": {"text": {"field": "label"}}},
  {"width": 125, "height": 253, "layer": [
    {"data": {"name": "pts"}, "transform": [{"filter": "datum.panel == 4"}], "mark": {"type": "circle", "size": 20, "opacity": 1},
     "encoding": {"x": {"field": "treatment", "type": "nominal", "scale": {"domain": ["Rule", "Violation"], "paddingInner": 0.5, "paddingOuter": 0.35}, "axis": {"title": null}},
      "xOffset": {"field": "jitter", "type": "quantitative", "scale": {"domain": [-0.25, 0.25]}},
      "y": {"field": "tau", "type": "quantitative", "scale": {"domain": [-0.05, 1.05], "nice": false, "zero": false}, "axis": null},
      "color": {"field": "treatment", "type": "nominal", "scale": {"domain": ["Rule", "Violation"], "range": ["#1C80E0", "#DE1A0C"]}, "legend": null}}},
    {"data": {"name": "med"}, "transform": [{"filter": "datum.panel == 4"}], "mark": {"type": "point", "shape": "diamond", "filled": true, "size": 150, "color": "#FFA500", "opacity": 0.85},
     "encoding": {"x": {"field": "treatment", "type": "nominal"}, "y": {"field": "tau", "type": "quantitative"}}}
  ]}
 ], "spacing": 0, "bounds": "flush"},
{"vconcat": [
  {"data": {"name": "strips"}, "transform": [{"filter": "datum.panel == 5"}], "width": 125, "height": 19, "view": {"stroke": "black", "strokeWidth": 1}, "mark": {"type": "text", "fontSize": 12, "fontWeight": "bold", "color": "black", "baseline": "middle", "align": "center"}, "encoding": {"text": {"field": "label"}}},
  {"width": 125, "height": 253, "layer": [
    {"data": {"name": "pts"}, "transform": [{"filter": "datum.panel == 5"}], "mark": {"type": "circle", "size": 20, "opacity": 1},
     "encoding": {"x": {"field": "treatment", "type": "nominal", "scale": {"domain": ["Rule", "Violation"], "paddingInner": 0.5, "paddingOuter": 0.35}, "axis": {"title": null}},
      "xOffset": {"field": "jitter", "type": "quantitative", "scale": {"domain": [-0.25, 0.25]}},
      "y": {"field": "tau", "type": "quantitative", "scale": {"domain": [-0.05, 1.05], "nice": false, "zero": false}, "axis": null},
      "color": {"field": "treatment", "type": "nominal", "scale": {"domain": ["Rule", "Violation"], "range": ["#1C80E0", "#DE1A0C"]}, "legend": null}}},
    {"data": {"name": "med"}, "transform": [{"filter": "datum.panel == 5"}], "mark": {"type": "point", "shape": "diamond", "filled": true, "size": 150, "color": "#FFA500", "opacity": 0.85},
     "encoding": {"x": {"field": "treatment", "type": "nominal"}, "y": {"field": "tau", "type": "quantitative"}}}
  ]}
 ], "spacing": 0, "bounds": "flush"},
{"vconcat": [
  {"data": {"name": "strips"}, "transform": [{"filter": "datum.panel == 6"}], "width": 125, "height": 19, "view": {"stroke": "black", "strokeWidth": 1}, "mark": {"type": "text", "fontSize": 12, "fontWeight": "bold", "color": "black", "baseline": "middle", "align": "center"}, "encoding": {"text": {"field": "label"}}},
  {"width": 125, "height": 253, "layer": [
    {"data": {"name": "pts"}, "transform": [{"filter": "datum.panel == 6"}], "mark": {"type": "circle", "size": 20, "opacity": 1},
     "encoding": {"x": {"field": "treatment", "type": "nominal", "scale": {"domain": ["Rule", "Violation"], "paddingInner": 0.5, "paddingOuter": 0.35}, "axis": {"title": null}},
      "xOffset": {"field": "jitter", "type": "quantitative", "scale": {"domain": [-0.25, 0.25]}},
      "y": {"field": "tau", "type": "quantitative", "scale": {"domain": [-0.05, 1.05], "nice": false, "zero": false}, "axis": null},
      "color": {"field": "treatment", "type": "nominal", "scale": {"domain": ["Rule", "Violation"], "range": ["#1C80E0", "#DE1A0C"]}, "legend": null}}},
    {"data": {"name": "med"}, "transform": [{"filter": "datum.panel == 6"}], "mark": {"type": "point", "shape": "diamond", "filled": true, "size": 150, "color": "#FFA500", "opacity": 0.85},
     "encoding": {"x": {"field": "treatment", "type": "nominal"}, "y": {"field": "tau", "type": "quantitative"}}}
  ]}
 ], "spacing": 0, "bounds": "flush"}
]
}
